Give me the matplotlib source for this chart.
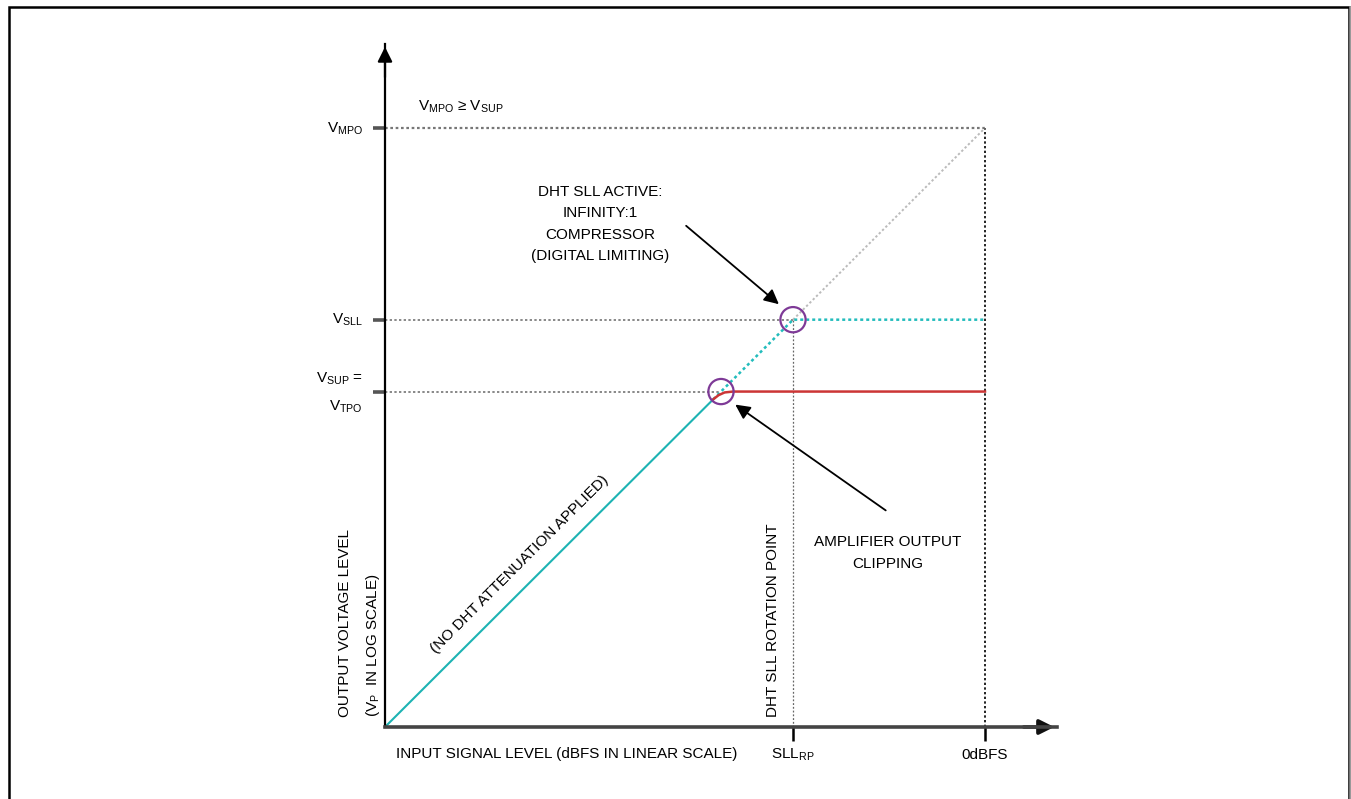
import matplotlib
matplotlib.use("Agg")
import matplotlib.pyplot as plt
from matplotlib.patches import Rectangle, FancyArrowPatch
from matplotlib.lines import Line2D

plt.rcParams['font.family'] = ['Liberation Sans', 'DejaVu Sans']
plt.rcParams['mathtext.fontset'] = 'custom'
plt.rcParams['mathtext.rm'] = 'Liberation Sans'

# ---- data (in chart units: origin = 0, 0dBFS / VMPO = 100) ----
x_ticks = [68, 100]                # SLL_RP, 0dBFS
x_tick_labels = ["SLL$_\\mathregular{RP}$", "0dBFS"]
y_ticks = [56, 68, 100]            # VSUP=VTPO, VSLL, VMPO
v_sup = 56
v_sll = 68
v_mpo = 100
sll_rp = 68
fs0 = 100

# linear (no attenuation) output, solid part
lin_x = [0, 54.7]
lin_y = [0, 54.7]
# amplifier clipping output (red, rounded knee)
clip_x = [54.7, 55.6, 56.6, 58.0, 100]
clip_y = [54.7, 55.4, 55.85, 56.0, 56.0]
# DHT SLL path (cyan dotted)
sll_x = [54.7, 68, 100]
sll_y = [54.7, 68, 68]
# unity extension above SLL (light gray dotted)
ext_x = [68, 100]
ext_y = [68, 100]
# circled points
circ_x = [56, 68]
circ_y = [56, 68]

W, H = 1351, 799
fig = plt.figure(figsize=(W / 100, H / 100), dpi=100)

x0, y0 = 385, 727          # origin in pixels
px_x = 6.0                 # pixels per unit x
px_y = 5.99                # pixels per unit y
xmax, ymax = 112, 114
ax = fig.add_axes([x0 / W, (H - y0) / H, xmax * px_x / W, ymax * px_y / H])
ax.set_xlim(0, xmax)
ax.set_ylim(0, ymax)
ax.patch.set_alpha(0)
for s in ['top', 'right']:
    ax.spines[s].set_visible(False)
ax.spines['left'].set_color('black')
ax.spines['left'].set_linewidth(1.6)
ax.spines['bottom'].set_color('#444444')
ax.spines['bottom'].set_linewidth(2.6)
ax.spines['left'].set_zorder(5)
ax.spines['bottom'].set_zorder(5)

ax.set_xticks(x_ticks)
ax.set_xticklabels([])
ax.set_yticks(y_ticks)
ax.set_yticklabels([])
ax.tick_params(axis='x', direction='out', length=10, width=1.8, color='black')
ax.tick_params(axis='y', direction='out', length=9, width=2.6, color='#555555')

# axis arrows
ax.annotate('', xy=(0, ymax), xytext=(0, ymax - 6),
            arrowprops=dict(arrowstyle='-|>', color='black', lw=1.6, mutation_scale=22),
            annotation_clip=False)
ax.annotate('', xy=(xmax, 0), xytext=(xmax - 6, 0),
            arrowprops=dict(arrowstyle='-|>', color='#111111', lw=2.6, mutation_scale=22),
            annotation_clip=False)

dot = (0, (1.2, 1.2))
# reference dotted lines
ax.plot([0, fs0], [v_mpo, v_mpo], color='#777777', lw=1.6, ls=dot)
ax.plot([fs0, fs0], [0, v_mpo], color='#222222', lw=1.4, ls=dot)
ax.plot([0, sll_rp], [v_sll, v_sll], color='#888888', lw=1.4, ls=dot)
ax.plot([0, circ_x[0]], [v_sup, v_sup], color='#888888', lw=1.4, ls=dot)
ax.plot([sll_rp, sll_rp], [0, v_sll], color='#666666', lw=0.9, ls=(0, (1.5, 1.5)))
ax.plot(ext_x, ext_y, color='#bbbbbb', lw=1.4, ls=dot)

# signal curves
ax.plot(sll_x, sll_y, color='#22bcbc', lw=1.8, ls=dot)
ax.plot(lin_x, lin_y, color='#1db3b3', lw=1.5, solid_capstyle='butt')
ax.plot(clip_x, clip_y, color='#cc3535', lw=1.8)

# circles
ax.scatter(circ_x, circ_y, s=330, facecolors='none', edgecolors='#7e3a97', linewidths=1.6, zorder=6)


def pt(x, y):
    return (x / W, 1 - y / H)


FS = 11
tkw = dict(transform=fig.transFigure, fontsize=FS, color='black')

fig.text(*pt(418, 107), "V$_\\mathregular{MPO}$ \u2265 V$_\\mathregular{SUP}$", ha='left', va='center', **tkw)
fig.text(*pt(363, 129), "V$_\\mathregular{MPO}$", ha='right', va='center', **tkw)
fig.text(*pt(363, 320), "V$_\\mathregular{SLL}$", ha='right', va='center', **tkw)
fig.text(*pt(363, 379), "V$_\\mathregular{SUP}$ =", ha='right', va='center', **tkw)
fig.text(*pt(363, 407), "V$_\\mathregular{TPO}$", ha='right', va='center', **tkw)

fig.text(*pt(600, 224), "DHT SLL ACTIVE:\nINFINITY:1\nCOMPRESSOR\n(DIGITAL LIMITING)",
         ha='center', va='center', multialignment='center', linespacing=1.65, **tkw)
fig.text(*pt(888, 553), "AMPLIFIER OUTPUT\nCLIPPING", ha='center', va='center',
         multialignment='center', linespacing=1.65, **tkw)

fig.text(*pt(773, 717), "DHT SLL ROTATION POINT", rotation=90, ha='center', va='bottom', **tkw)
fig.text(*pt(345, 717), "OUTPUT VOLTAGE LEVEL", rotation=90, ha='center', va='bottom', **tkw)
fig.text(*pt(373, 717), "(V$_\\mathregular{P}$  IN LOG SCALE)", rotation=90, ha='center', va='bottom', **tkw)
fig.text(*pt(520, 564), "(NO DHT ATTENUATION APPLIED)", rotation=45, rotation_mode='anchor',
         ha='center', va='center', **tkw)

fig.text(*pt(396, 754), "INPUT SIGNAL LEVEL (dBFS IN LINEAR SCALE)", ha='left', va='center', **tkw)
for xv, lab in zip(x_ticks, x_tick_labels):
    fig.text(*pt(x0 + xv * px_x, 755), lab, ha='center', va='center', **tkw)

# annotation arrows
fig.add_artist(FancyArrowPatch(
    pt(684, 224), pt(781, 306), transform=fig.transFigure,
    arrowstyle='-|>', mutation_scale=22, color='black', lw=1.3))
fig.add_artist(FancyArrowPatch(
    pt(888, 512), pt(733, 403), transform=fig.transFigure,
    arrowstyle='-|>', mutation_scale=22, color='black', lw=1.3))

# outer frame
fig.add_artist(Rectangle((8.5 / W, -0.02), (1349 - 8.5) / W, 1 - 6.5 / H + 0.02,
                         transform=fig.transFigure, fill=False, edgecolor='black', lw=1.8))
fig.add_artist(Line2D([1349.5 / W, 1349.5 / W], [0, 1 - 6.5 / H],
                      transform=fig.transFigure, color='#999999', lw=1.8))

fig.savefig('out.png', dpi=100)
